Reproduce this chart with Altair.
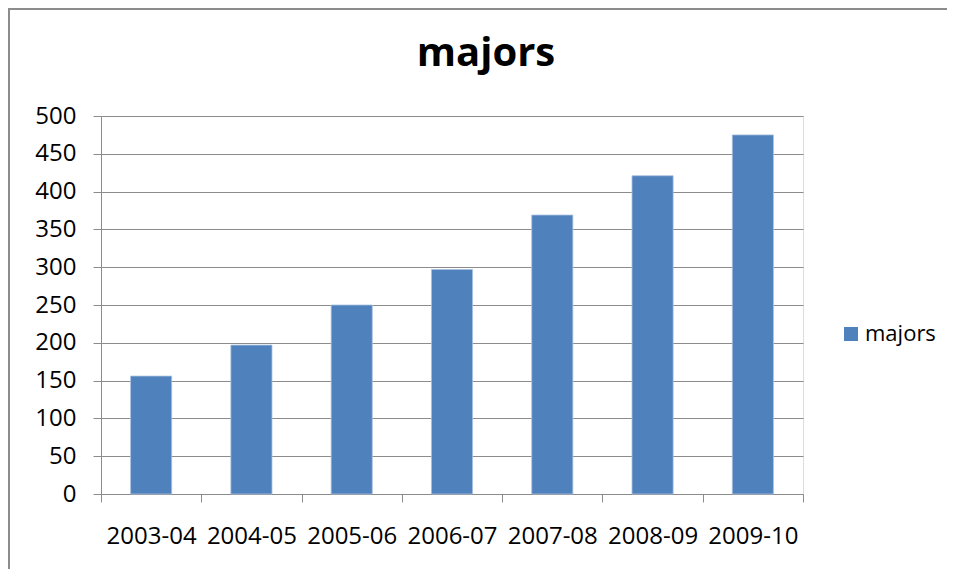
import altair as alt
import pandas as pd

years = ["2003-04", "2004-05", "2005-06", "2006-07", "2007-08", "2008-09", "2009-10"]
majors = [156, 197, 250, 297, 369, 421, 475]
series = ["majors"] * len(years)
y_ticks = [0, 50, 100, 150, 200, 250, 300, 350, 400, 450, 500]

df = pd.DataFrame({"year": years, "majors": majors, "series": series})

FONT = "Open Sans"
GRAY = "#8C8C8C"

bars = alt.Chart(df).mark_bar(
    width=alt.RelativeBandSize(0.41), stroke="#A9C1DF", strokeWidth=0.8
).encode(
    x=alt.X(
        "year:N",
        sort=years,
        scale=alt.Scale(paddingInner=0, paddingOuter=0),
        axis=alt.Axis(
            title=None,
            labelAngle=0,
            tickBand="extent",
            tickSize=8,
            tickColor=GRAY,
            domainColor=GRAY,
            labelPadding=22,
            labelFontSize=24,
            labelFont=FONT,
            labelColor="#000000",
            grid=False,
        ),
    ),
    y=alt.Y(
        "majors:Q",
        scale=alt.Scale(domain=[0, 500], nice=False),
        axis=alt.Axis(
            title=None,
            values=y_ticks,
            tickSize=8,
            tickColor=GRAY,
            domainColor=GRAY,
            gridColor=GRAY,
            gridOpacity=1,
            labelPadding=17,
            labelFontSize=24,
            labelFont=FONT,
            labelColor="#000000",
        ),
    ),
    color=alt.Color(
        "series:N",
        scale=alt.Scale(range=["#4F81BD"]),
        legend=alt.Legend(
            title=None,
            orient="none",
            legendX=739,
            legendY=207,
            symbolType="square",
            symbolSize=196,
            symbolStrokeWidth=0,
            labelFontSize=22,
            labelFont=FONT,
            labelColor="#000000",
            labelOffset=3,
            padding=0,
        ),
    ),
)

border = alt.Chart(df).mark_rect(
    fill=None, stroke=GRAY, strokeWidth=2
).encode(
    x=alt.value(-92),
    x2=alt.value(3000),
    y=alt.value(-107),
    y2=alt.value(3000),
)

chart = alt.layer(border, bars).properties(
    width=702,
    height=378,
    autosize=alt.AutoSizeParams(type="none"),
    padding={"left": 93, "top": 108, "right": 144, "bottom": 75},
    title=alt.TitleParams(
        "majors",
        font=FONT,
        fontSize=40,
        fontWeight="bold",
        color="#000000",
        anchor="middle",
        frame="group",
        dx=34,
        offset=0,
        dy=98,
        baseline="alphabetic",
    ),
).configure_view(stroke=None).configure(background="white")

chart.save("out.html", embed_options={"renderer": "svg", "actions": False})
